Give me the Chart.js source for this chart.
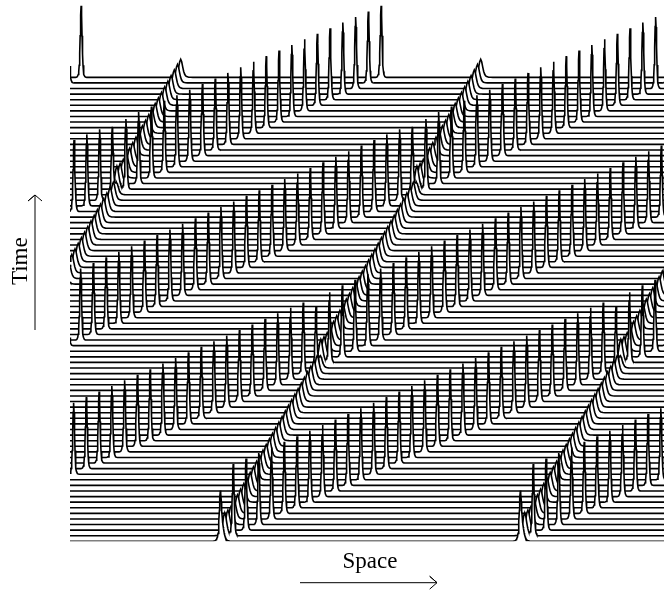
<!DOCTYPE html>
<html>
<head>
<meta charset="utf-8">
<style>
html,body{margin:0;padding:0;background:#fff;width:664px;height:591px;overflow:hidden}
#wrap{position:absolute;left:0;top:-19px;width:670px;height:610px}
canvas{display:block}
</style>
<script src="https://cdn.jsdelivr.net/npm/chart.js@4"></script>
</head>
<body>
<div id="wrap"><canvas id="c" width="670" height="610"></canvas></div>
<script>
const xTitle = 'Space';
const yTitle = 'Time';
const spacePeriod = 300;
const rowGap = 5.59;

const fastX = [220.4,233.2,246.0,258.7,271.5,284.2,297.0,309.8,322.5,335.3,348.0,360.8,73.6,86.3,99.1,111.8,124.6,137.4,150.1,162.9,175.6,188.4,201.2,213.9,226.7,239.4,252.2,265.0,277.7,290.5,303.2,316.0,329.5,342.3,355.0,367.8,80.6,93.3,106.1,118.8,131.6,144.4,157.1,169.9,182.6,195.4,208.2,220.9,233.7,246.4,259.2,272.0,284.7,297.5,310.2,323.0,335.8,348.5,361.3,74.0,86.8,99.6,112.3,125.9,138.6,151.4,164.2,176.9,189.7,202.4,215.2,228.0,240.7,253.5,266.2,279.0,291.8,304.5,317.3,330.0,342.8,355.6,368.3,81.1];
const slowX = [221.5,224.7,227.9,231.1,234.3,237.5,240.6,243.8,247.0,250.2,253.4,256.6,259.8,263.0,266.2,269.4,272.5,275.7,278.9,282.1,285.3,288.5,291.7,294.9,298.1,301.3,304.4,307.6,310.8,314.0,317.2,320.4,320.8,324.0,327.2,330.4,333.6,336.7,339.9,343.1,346.3,349.5,352.7,355.9,359.1,362.3,365.5,368.6,71.8,75.0,78.2,81.4,84.6,87.8,91.0,94.2,97.4,100.5,103.7,106.9,110.1,113.3,116.5,116.9,120.1,123.3,126.5,129.6,132.8,136.0,139.2,142.4,145.6,148.8,152.0,155.2,158.4,161.5,164.7,167.9,171.1,174.3,177.5,180.7];
const fastH = [34,71.5,71.5,71.5,71.5,71.5,71.5,71.5,71.5,71.5,71.5,71.5,71.5,71.5,71.5,71.5,71.5,71.5,71.5,71.5,71.5,71.5,71.5,71.5,71.5,71.5,71.5,71.5,71.5,71.5,71,60,70,71.5,71.5,71.5,71.5,71.5,71.5,71.5,71.5,71.5,71.5,71.5,71.5,71.5,71.5,71.5,71.5,71.5,71.5,71.5,71.5,71.5,71.5,71.5,71.5,71.5,71.5,71.5,71.5,71,66,70,71.5,71.5,71.5,71.5,71.5,71.5,71.5,71.5,71.5,71.5,71.5,71.5,71.5,71.5,71.5,71.5,71.5,71.5,71.5,71.5];
const slowH = [20,23,20,18.5,18.5,18.5,18.5,18.5,18.5,18.5,18.5,18.5,18.5,18.5,18.5,18.5,18.5,18.5,18.5,18.5,18.5,18.5,18.5,18.5,18.5,18.5,18.5,18.5,18.5,18.5,18,12,23,20,18.5,18.5,18.5,18.5,18.5,18.5,18.5,18.5,18.5,18.5,18.5,18.5,18.5,18.5,18.5,18.5,18.5,18.5,18.5,18.5,18.5,18.5,18.5,18.5,18.5,18.5,18.5,18,12,23,20,18.5,18.5,18.5,18.5,18.5,18.5,18.5,18.5,18.5,18.5,18.5,18.5,18.5,18.5,18.5,18.5,18.5,18.5,18];

// Peak profile: offset from the crest (px) and share of the height
const shapeOffset = [0,0.5,1,1.5,2,2.5,3,4,5,6];
const shapeValue = [1,0.865,0.582,0.329,0.169,0.082,0.039,0.0084,0.0018,0];
const fastWidth = 0.95;
const slowWidth = 2.0;

const timeArrowX = [35,35,28,35,42];
const timeArrowY = [211.3,346.3,340.3,346.3,340.3];
const spaceArrowX = [300,437,429.7,437,429.7];
const spaceArrowY = [-41.4,-41.4,-35,-41.4,-47.8];

function shapeAt(d){
  d = Math.abs(d);
  for(let i=1;i<shapeOffset.length;i++){
    if(d<=shapeOffset[i]){
      const a=shapeOffset[i-1],b=shapeOffset[i];
      return shapeValue[i-1]+(shapeValue[i]-shapeValue[i-1])*(d-a)/(b-a);
    }
  }
  return 0;
}
function rowPoints(r){
  const peaks=[];
  for(const k of [-1,0,1,2]){
    peaks.push({x:fastX[r]+k*spacePeriod,h:fastH[r],w:fastWidth});
    peaks.push({x:slowX[r]+k*spacePeriod,h:slowH[r],w:slowWidth});
  }
  const xs=new Set([70,670]);
  for(const p of peaks){
    for(const o of shapeOffset){
      for(const s of [-1,1]){
        const x=p.x+s*o*p.w;
        if(x>70&&x<670) xs.add(Math.round(x*100)/100);
      }
    }
  }
  const base=r*rowGap;
  return [...xs].sort((a,b)=>a-b).map(x=>{
    let y=base;
    for(const p of peaks) y+=p.h*shapeAt((x-p.x)/p.w);
    return {x,y};
  });
}
const datasets=[];
for(let r=0;r<fastX.length;r++){
  datasets.push({
    label:'t'+r,
    data:rowPoints(r),
    borderColor:'#000',
    borderWidth:1.6,
    backgroundColor:'#fff',
    fill:{target:{value:r*rowGap},above:'#fff',below:'#fff'},
    pointRadius:0,
    tension:0
  });
}
function arrow(xa,ya,name){
  return {label:name,data:xa.map((x,i)=>({x,y:ya[i]})),borderColor:'#000',borderWidth:1,fill:false,pointRadius:0,tension:0,clip:false};
}
datasets.unshift(arrow(timeArrowX,timeArrowY,'time arrow'),arrow(spaceArrowX,spaceArrowY,'space arrow'));

new Chart(document.getElementById('c'),{
  type:'line',
  data:{datasets},
  options:{
    responsive:false,
    animation:false,
    devicePixelRatio:1,
    layout:{padding:0},
    plugins:{legend:{display:false},tooltip:{enabled:false}},
    scales:{
      x:{type:'linear',min:70,max:670,
        grid:{display:false,drawTicks:false},border:{display:false},ticks:{display:false},
        title:{display:true,text:xTitle,color:'#000',font:{family:'"Liberation Serif"',size:23},padding:{top:6.9,bottom:15.2}}},
      y:{type:'linear',min:0,max:560.3,
        grid:{display:false,drawTicks:false},border:{display:false},ticks:{display:false},
        title:{display:true,text:yTitle,color:'#000',font:{family:'"Liberation Serif"',size:23},padding:{top:7.2,bottom:35.2}}}
    }
  }
});
</script>
</body>
</html>
